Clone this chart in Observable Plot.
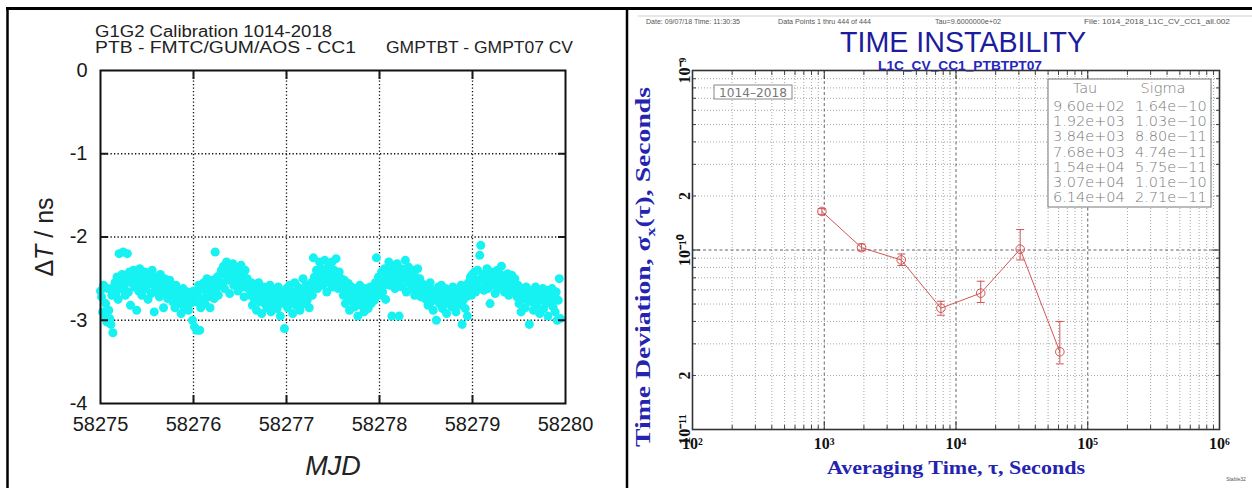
<!DOCTYPE html>
<html><head><meta charset="utf-8">
<script src="https://cdn.jsdelivr.net/npm/d3@7"></script>
<script src="https://cdn.jsdelivr.net/npm/@observablehq/plot@0.6"></script>
<style>
html,body{margin:0;padding:0;background:#fff;}
#root{position:relative;width:1252px;height:488px;overflow:hidden;background:#fff;}
#root > svg, #root > div{position:absolute;}
</style></head><body><div id="root"></div>
<script>
// ---------- Left panel data: ΔT (ns) sampled every 960 s from MJD 58275 ----------
const mjdStart = 58275;
const sampleDays = 960 / 86400;
const dtDay1 = [-2.65,-2.72,-2.90,-2.58,-2.95,-2.80,-3.02,-2.62,-2.88,-2.98,-3.05,-2.70,-3.15,-2.60,
  -2.55,-2.68,-2.48,-2.75,-2.20,-2.52,-2.62,-2.45,-2.18,-2.58,-2.70,-2.50,-2.20,-2.66,-2.42,-2.82,-2.55,-2.48,
  -2.40,-2.60,-2.52,-2.88,-2.45,-2.65,-2.38,-2.55,-2.70,-2.47,-2.58,-2.42,-2.62,-2.50,-2.75,-2.44,-2.56,-2.68,-2.40,-2.52,
  -2.90,-2.60,-2.48,-2.66,-2.55,-2.72,-2.45,-2.62,-2.58,-2.85,-2.50,-2.68,-2.56,-2.74,-2.62,-2.52,
  -2.70,-2.60,-2.78,-2.66,-2.85,-2.58,-2.72,-2.64,-2.80,-2.68,-2.92,-2.75,-2.62,-2.84,-2.70,-2.78,-2.66,-2.88,-2.72,-2.80,-2.68];
const dtDay2 = [-3.00,-2.65,-3.08,-2.78,-3.12,-2.70,-2.58,-3.12,-2.85,
  -2.62,-2.75,-2.55,-2.80,-2.66,-2.50,-2.72,-2.60,-2.85,-2.58,-2.68,-2.52,-2.74,-2.18,-2.62,-2.48,-2.70,-2.56,-2.45,
  -2.40,-2.55,-2.35,-2.62,-2.45,-2.30,-2.52,-2.42,-2.68,-2.38,-2.48,-2.32,-2.58,-2.44,-2.36,-2.55,-2.65,-2.42,-2.50,-2.34,
  -2.60,-2.47,-2.72,-2.40,-2.56,-2.50,-2.62,
  -2.58,-2.70,-2.55,-2.82,-2.64,-2.75,-2.60,-2.88,-2.68,-2.55,-2.78,-2.66,-2.92,-2.72,-2.60,-2.80,-2.70,-2.85,-2.62,-2.76,
  -2.58,-2.90,-2.68,-2.74,-2.82,-2.64,-2.72,-2.86,-2.60,-2.78,-2.95,-2.70,-2.66,-2.80];
const dtDay3 = [-3.10,-2.72,-2.62,-2.85,-2.70,-2.58,-2.80,-2.66,-2.92,-2.74,-2.55,-2.82,-2.68,-2.60,-2.78,-2.88,-2.64,-2.72,
  -2.50,-2.80,-2.68,-2.58,-2.76,-2.66,-2.85,-2.62,-2.55,-2.70,
  -2.25,-2.48,-2.55,-2.40,-2.62,-2.45,-2.30,-2.52,-2.38,-2.58,-2.42,-2.28,-2.50,-2.66,-2.44,-2.35,-2.56,-2.46,-2.30,-2.60,
  -2.40,-2.52,-2.26,-2.48,-2.62,-2.42,-2.55,-2.50,
  -2.58,-2.70,-2.52,-2.80,-2.64,-2.72,-2.56,-2.88,-2.66,-2.60,-2.78,-2.68,-2.84,-2.62,-2.75,-2.95,-2.70,-2.58,-2.82,-2.66,
  -2.74,-2.90,-2.62,-2.78,-2.68,-2.86,-2.72,-2.60,-2.80,-2.70,-2.64,-2.76,-2.55];
const dtDay4 = [-2.25,-2.62,-2.48,-2.70,-2.55,-2.42,-2.66,-2.58,-2.38,-2.75,-2.50,
  -2.45,-2.30,-2.58,-2.40,-2.95,-2.52,-2.35,-2.62,-2.44,-2.32,-2.55,-2.95,-2.48,-2.38,-2.60,-2.42,-2.50,-2.28,-2.66,-2.46,
  -2.36,-2.56,-2.44,-2.62,-2.40,-2.52,-2.70,-2.48,-2.58,-2.38,-2.65,-2.50,-2.72,-2.56,-2.60,
  -2.68,-2.58,-2.75,-2.62,-2.82,-2.66,-2.55,-2.78,-2.70,-2.88,-2.64,-2.74,-3.00,-2.68,-2.60,-2.80,-2.72,-2.58,-2.86,-2.66,
  -2.76,-2.62,-2.92,-2.70,-2.80,-2.64,-2.74,-2.84,-2.60,-2.72,-2.68,-2.90,-2.78,-2.66,-2.82,-2.70,-2.58,-3.05,-2.76,-2.64,
  -2.86,-2.72,-2.95];
const dtDay5 = [-2.55,-2.62,-2.48,-2.70,-2.45,-2.58,-2.42,-2.66,-2.52,-2.40,-2.60,-2.22,-2.10,-2.50,-2.46,-2.64,-2.44,-2.56,
  -2.38,-2.62,-2.48,-2.80,-2.52,-2.42,-2.58,-2.46,-2.68,-2.50,-2.40,-2.55,-2.62,-2.45,-2.35,-2.58,-2.50,-2.66,-2.48,-2.56,
  -2.44,-2.70,-2.52,-2.60,-2.46,-2.64,-2.55,-2.50,
  -2.62,-2.72,-2.58,-2.80,-2.66,-2.90,-2.62,-2.74,-2.68,-2.85,-2.60,-2.76,-2.70,-3.05,-2.66,-2.78,-2.64,-2.88,-2.72,-2.60,
  -2.82,-2.68,-2.76,-2.92,-2.66,-2.74,-2.62,-2.86,-2.70,-2.80,-2.64,-2.95,-2.72,-2.68,-2.78,-2.62,-2.84,-2.70,-2.90,-2.66,
  -3.00,-2.76,-2.50,-2.98];
const mjdTicks = [58275, 58276, 58277, 58278, 58279, 58280];
const mjdGrid = [58276, 58277, 58278, 58279];
const dtTicks = [0, -1, -2, -3, -4];
const dtGrid = [-1, -2, -3];

// ---------- Right panel data: time deviation ----------
const tauSec = [960, 1920, 3840, 7680, 15400, 30700, 61400];
const sigma = [1.64e-10, 1.03e-10, 8.80e-11, 4.74e-11, 5.75e-11, 1.01e-10, 2.71e-11];
const sigmaLo = [1.58e-10, 0.99e-10, 8.2e-11, 4.33e-11, 5.1e-11, 0.88e-10, 2.32e-11];
const sigmaHi = [1.70e-10, 1.08e-10, 9.5e-11, 5.18e-11, 6.7e-11, 1.30e-10, 4.0e-11];
const tauMajor = [1e2, 1e3, 1e4, 1e5, 1e6];
const tauMajorLabels = ["10²", "10³", "10⁴", "10⁵", "10⁶"];
const tauMajorInner = [1e3, 1e4, 1e5];
const tauMinor = [200,300,400,500,600,700,800,900, 2000,3000,4000,5000,6000,7000,8000,9000,
  2e4,3e4,4e4,5e4,6e4,7e4,8e4,9e4, 2e5,3e5,4e5,5e5,6e5,7e5,8e5,9e5];
const sigTicks = [1e-9, 2e-10, 1e-10, 2e-11, 1e-11];
const sigTickLabels = ["10⁻⁹", "2", "10⁻¹⁰", "2", "10⁻¹¹"];
const sigMajorInner = [1e-10];
const sigMinor = [2e-11,3e-11,4e-11,5e-11,6e-11,7e-11,8e-11,9e-11, 2e-10,3e-10,4e-10,5e-10,6e-10,7e-10,8e-10,9e-10];

// ---------- Build tables ----------
const dtAll = [...dtDay1, ...dtDay2, ...dtDay3, ...dtDay4, ...dtDay5];
const series = dtAll.map((v, i) => ({mjd: mjdStart + i * sampleDays, dt: v}));
const tdev = tauSec.map((t, i) => ({tau: t, sigma: sigma[i], lo: sigmaLo[i], hi: sigmaHi[i]}));
const tauLabelOf = new Map(tauMajor.map((t, i) => [t, tauMajorLabels[i]]));
const sigLabelOf = new Map(sigTicks.map((t, i) => [t, sigTickLabels[i]]));

const root = document.getElementById("root");

// ---------- Left chart ----------
const left = Plot.plot({
  width: 620, height: 488,
  marginLeft: 100, marginRight: 55, marginTop: 70, marginBottom: 85,
  x: {domain: [58275, 58280]},
  y: {domain: [-4, 0]},
  style: {fontFamily: "'Liberation Sans', Arial, sans-serif", fontSize: "20px", color: "#1a1a1a", background: "transparent", overflow: "visible"},
  marks: [
    Plot.gridX(mjdGrid, {stroke: "#111", strokeOpacity: 1, strokeWidth: 1.3, strokeDasharray: "1.3,2.2"}),
    Plot.gridY(dtGrid, {stroke: "#111", strokeOpacity: 1, strokeWidth: 1.3, strokeDasharray: "1.3,2.2"}),
    Plot.dot(series, {x: "mjd", y: "dt", r: 4.5, fill: "#16f2f2", stroke: "none"}),
    Plot.axisX(mjdTicks, {anchor: "bottom", tickSize: 0, tickPadding: 13, tickFormat: d => String(d), label: null}),
    Plot.axisY(dtTicks, {anchor: "left", tickSize: 0, tickPadding: 13, tickFormat: d => String(d), label: null}),
    Plot.axisX(mjdGrid, {anchor: "bottom", tickSize: -8, strokeWidth: 2, tickFormat: () => "", label: null}),
    Plot.axisX(mjdGrid, {anchor: "top", tickSize: -8, strokeWidth: 2, tickFormat: () => "", label: null}),
    Plot.axisY(dtGrid, {anchor: "left", tickSize: -8, strokeWidth: 2, tickFormat: () => "", label: null}),
    Plot.axisY(dtGrid, {anchor: "right", tickSize: -8, strokeWidth: 2, tickFormat: () => "", label: null}),
    Plot.frame({stroke: "#111", strokeWidth: 2})
  ]
});
left.style.left = "0px"; left.style.top = "0px";
root.appendChild(left);

// ---------- Right chart ----------
const red = "#d25555";
const capSymbol = {draw(ctx, size) { const w = Math.sqrt(size / Math.PI); ctx.moveTo(-w, 0); ctx.lineTo(w, 0); }};
const right = Plot.plot({
  width: 625, height: 488,
  marginLeft: 65, marginRight: 33, marginTop: 70, marginBottom: 59,
  x: {type: "log", domain: [1e2, 1e6]},
  y: {type: "log", domain: [1e-11, 1e-9]},
  style: {fontFamily: "'Liberation Serif', 'Times New Roman', serif", fontSize: "16px", color: "#111", background: "transparent", overflow: "visible"},
  marks: [
    Plot.gridX(tauMinor, {stroke: "#9a9a9a", strokeOpacity: 0.9, strokeDasharray: "1,2"}),
    Plot.gridY(sigMinor, {stroke: "#9a9a9a", strokeOpacity: 0.9, strokeDasharray: "1,2"}),
    Plot.gridX(tauMajorInner, {stroke: "#555", strokeOpacity: 0.9, strokeDasharray: "3,2.5"}),
    Plot.gridY(sigMajorInner, {stroke: "#555", strokeOpacity: 0.9, strokeDasharray: "3,2.5"}),
    Plot.ruleX(tdev, {x: "tau", y1: "lo", y2: "hi", stroke: red, strokeWidth: 1}),
    Plot.dot(tdev, {x: "tau", y: "lo", r: 4, symbol: capSymbol, stroke: red, strokeWidth: 1}),
    Plot.dot(tdev, {x: "tau", y: "hi", r: 4, symbol: capSymbol, stroke: red, strokeWidth: 1}),
    Plot.line(tdev, {x: "tau", y: "sigma", stroke: red, strokeWidth: 1}),
    Plot.dot(tdev, {x: "tau", y: "sigma", r: 4.3, stroke: red, fill: "none", strokeWidth: 1}),
    Plot.axisX(tauMajor, {anchor: "bottom", tickSize: 0, tickPadding: 8, fontSize: 16, fontWeight: "bold", tickFormat: d => tauLabelOf.get(d), label: null}),
    Plot.axisY(sigTicks, {anchor: "left", tickSize: 0, tickPadding: 3, tickRotate: -90, fontSize: 16, fontWeight: "bold", tickFormat: d => sigLabelOf.get(d), label: null}),
    Plot.axisX(tauMinor, {anchor: "bottom", tickSize: -4, stroke: "#444", tickFormat: () => "", label: null}),
    Plot.axisX(tauMinor, {anchor: "top", tickSize: -4, stroke: "#444", tickFormat: () => "", label: null}),
    Plot.axisX(tauMajorInner, {anchor: "bottom", tickSize: -8, stroke: "#333", tickFormat: () => "", label: null}),
    Plot.axisX(tauMajorInner, {anchor: "top", tickSize: -8, stroke: "#333", tickFormat: () => "", label: null}),
    Plot.axisY(sigMinor, {anchor: "left", tickSize: -4, stroke: "#444", tickFormat: () => "", label: null}),
    Plot.axisY(sigMinor, {anchor: "right", tickSize: -4, stroke: "#444", tickFormat: () => "", label: null}),
    Plot.axisY(sigMajorInner, {anchor: "left", tickSize: -8, stroke: "#333", tickFormat: () => "", label: null}),
    Plot.axisY(sigMajorInner, {anchor: "right", tickSize: -8, stroke: "#333", tickFormat: () => "", label: null}),
    Plot.frame({stroke: "#333", strokeWidth: 1.6})
  ]
});
right.style.left = "627px"; right.style.top = "0px";
root.appendChild(right);

// ---------- Overlay: titles, axis titles, legend boxes, panel borders ----------
const fmtExp = v => {
  const [m, e] = v.toExponential(2).split("e");
  return m + "e" + (e[0] === "-" ? "−" : "+") + e.slice(1).padStart(2, "0");
};
const blue = "#2424b0";
let rows = "";
tdev.forEach((d, i) => {
  const y = 111 + i * 15.2;
  rows += `<text x="1053" y="${y}">${fmtExp(d.tau)}</text><text x="1135" y="${y}">${fmtExp(d.sigma)}</text>`;
});
const overlay = `
<svg width="1252" height="488" xmlns="http://www.w3.org/2000/svg" style="left:0;top:0;pointer-events:none;white-space:pre">
  <line x1="6" y1="8.5" x2="1252" y2="8.5" stroke="#000" stroke-width="3"/>
  <line x1="7.5" y1="7" x2="7.5" y2="488" stroke="#000" stroke-width="2.5"/>
  <line x1="627" y1="7" x2="627" y2="488" stroke="#000" stroke-width="2.5"/>
  <line x1="638" y1="16" x2="1252" y2="16" stroke="#d0d0d0" stroke-width="1"/>

  <g font-family="'Liberation Sans', Arial, sans-serif" fill="#222" font-size="16">
    <text x="95" y="37" textLength="237" lengthAdjust="spacingAndGlyphs">G1G2 Calibration 1014-2018</text>
    <text x="95" y="53" textLength="261" lengthAdjust="spacingAndGlyphs">PTB - FMTC/GUM/AOS  -  CC1</text>
    <text x="386" y="53" textLength="187" lengthAdjust="spacingAndGlyphs">GMPTBT - GMPT07 CV</text>
  </g>
  <text transform="translate(53,237) rotate(-90)" text-anchor="middle" font-family="'Liberation Sans', Arial, sans-serif" font-size="25" fill="#222">Δ<tspan font-style="italic">T</tspan> / ns</text>
  <text x="333" y="475" text-anchor="middle" font-family="'Liberation Sans', Arial, sans-serif" font-style="italic" font-size="27" fill="#222">MJD</text>

  <g font-family="'Liberation Sans', Arial, sans-serif" fill="#555" font-size="8">
    <text x="646" y="24" textLength="94" lengthAdjust="spacingAndGlyphs">Date: 09/07/18  Time: 11:30:35</text>
    <text x="778" y="24" textLength="93" lengthAdjust="spacingAndGlyphs">Data Points 1 thru 444 of 444</text>
    <text x="935" y="24" textLength="66" lengthAdjust="spacingAndGlyphs">Tau=9.6000000e+02</text>
    <text x="1084" y="24" textLength="146" lengthAdjust="spacingAndGlyphs">File: 1014_2018_L1C_CV_CC1_all.002</text>
  </g>
  <text x="963" y="52" text-anchor="middle" font-family="'Liberation Sans Narrow', 'Liberation Sans', Arial, sans-serif" font-size="29" fill="#1c1c9c" textLength="246" lengthAdjust="spacingAndGlyphs">TIME INSTABILITY</text>
  <text x="960" y="69.5" text-anchor="middle" font-family="'Liberation Sans', Arial, sans-serif" font-weight="bold" font-size="12" fill="#2626c0" textLength="164" lengthAdjust="spacingAndGlyphs">L1C_CV_CC1_PTBTPT07</text>

  <rect x="714" y="85" width="78" height="14" fill="#fff" stroke="#888" stroke-width="1"/>
  <text x="753" y="96.5" text-anchor="middle" font-family="'DejaVu Sans', sans-serif" font-size="12" fill="#777" textLength="68" lengthAdjust="spacingAndGlyphs">1014–2018</text>

  <rect x="1048" y="79" width="163" height="128" fill="#fff" stroke="#777" stroke-width="1"/>
  <g font-family="'DejaVu Sans', sans-serif" font-weight="300" font-size="14.5" fill="#7a7a7a">
    <text x="1085" y="93" text-anchor="middle">Tau</text>
    <text x="1163" y="93" text-anchor="middle">Sigma</text>
    ${rows}
  </g>

  <text transform="translate(650,267) rotate(-90)" text-anchor="middle" font-family="'Liberation Serif', 'Times New Roman', serif" font-weight="bold" font-size="20" fill="${blue}" textLength="360" lengthAdjust="spacingAndGlyphs">Time  Deviation,  σ<tspan font-size="13" dy="5">x</tspan><tspan dy="-5">(τ),  Seconds</tspan></text>
  <text x="956" y="474" text-anchor="middle" font-family="'Liberation Serif', 'Times New Roman', serif" font-weight="bold" font-size="19" fill="${blue}" textLength="258" lengthAdjust="spacingAndGlyphs">Averaging  Time,  τ,  Seconds</text>
  <text x="1236" y="481" text-anchor="middle" font-family="'Liberation Sans', Arial, sans-serif" font-size="5" fill="#555">Stable32</text>
</svg>`;
const wrap = document.createElement("div");
wrap.style.left = "0px"; wrap.style.top = "0px";
wrap.innerHTML = overlay;
root.appendChild(wrap);
</script>
</body></html>
